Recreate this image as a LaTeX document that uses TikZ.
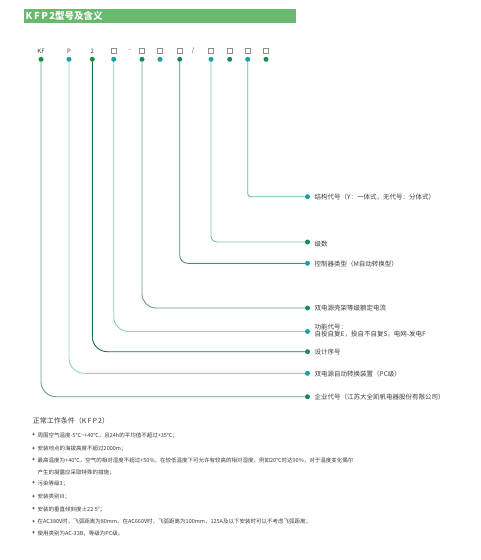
\documentclass[tikz,border=0pt]{standalone}
\usepackage{fontspec}
\setmainfont{Noto Sans CJK SC}
\definecolor{hdr}{RGB}{104,184,110}
\definecolor{dg}{RGB}{22,140,80}
\definecolor{dt}{RGB}{24,162,166}
\definecolor{txt}{RGB}{60,60,60}
\definecolor{lKF}{RGB}{110,160,125}
\definecolor{lP}{RGB}{150,210,205}
\definecolor{lTwo}{RGB}{30,115,70}
\definecolor{lA}{RGB}{140,205,205}
\definecolor{lB}{RGB}{105,155,120}
\definecolor{lD}{RGB}{85,140,105}
\definecolor{lE}{RGB}{120,195,195}
\definecolor{lG}{RGB}{100,180,180}
\tikzset{
  dotg/.style={circle,fill=dg,inner sep=0pt,minimum size=5pt},
  dott/.style={circle,fill=dt,inner sep=0pt,minimum size=5pt},
  codebox/.style={draw=black!45,line width=0.4pt,inner sep=0pt,minimum size=5pt},
  toplab/.style={font=\fontsize{6}{6}\selectfont,text=txt,inner sep=0pt},
  rlab/.style={anchor=west,font=\fontsize{6.5}{7.6}\selectfont,text=txt,inner sep=0pt,align=left},
  conn/.style={line width=0.9pt},
  blt/.style={anchor=west,font=\fontsize{5.5}{6}\selectfont,text=txt,inner sep=0pt},
  bul/.style={font=\fontsize{5}{5}\selectfont\bfseries,text=txt,inner sep=0pt}
}
\begin{document}
\begin{tikzpicture}[x=1pt,y=-1pt]
\useasboundingbox (0,0) rectangle (480,560);
\fill[white] (0,0) rectangle (480,560);
% header
\fill[hdr] (24,9) rectangle (296,23);
\node[anchor=west,text=white,inner sep=0pt,font=\bfseries\fontsize{9.5}{10}\selectfont] (title) at (25.5,16) {K\,F\,P\,2型号及含义};
% top labels
\node[toplab] (kKF) at (41,51) {KF};
\node[toplab] (kP) at (69,51) {P};
\node[toplab] (k2) at (92.3,51) {2};
\node[codebox] (b1) at (113.7,51) {};
\node[toplab] (kdash) at (130,51) {-};
\node[codebox] (b2) at (142,51) {};
\node[codebox] (b3) at (160,51) {};
\node[codebox] (b4) at (179.7,51) {};
\node[toplab] (kslash) at (193,51) {/};
\node[codebox] (b5) at (211,51) {};
\node[codebox] (b6) at (229.7,51) {};
\node[codebox] (b7) at (247.7,51) {};
\node[codebox] (b8) at (266,51) {};
% top dots
\node[dotg] (dKF) at (41,59.3) {};
\node[dott] (dP) at (69,59.3) {};
\node[dotg] (d2) at (92.3,59.3) {};
\node[dott] (d1) at (113.7,59.3) {};
\node[dotg] (dB) at (142,59.3) {};
\node[dott] (dC) at (160,59.3) {};
\node[dotg] (dD) at (179.7,59.3) {};
\node[dott] (dE) at (211,59.3) {};
\node[dotg] (dF) at (229.7,59.3) {};
\node[dott] (dG) at (247.7,59.3) {};
\node[dotg] (dH) at (266,59.3) {};
% right dots
\node[dott] (rG) at (307.5,196.7) {};
\node[dotg] (rE) at (307.5,242) {};
\node[dott] (rD) at (307.5,263.3) {};
\node[dotg] (rB) at (307.5,308) {};
\node[dott] (r1) at (307.5,331.5) {};
\node[dotg] (r2) at (307.5,351.7) {};
\node[dott] (rP) at (307.5,373.3) {};
\node[dotg] (rKF) at (307.5,396.7) {};
% connectors
\draw[conn,lG,rounded corners=3pt] (dG) |- (rG);
\draw[conn,lE,rounded corners=6pt] (dE) |- (rE);
\draw[conn,lD,rounded corners=8pt] (dD) |- (rD);
\draw[conn,lB,rounded corners=14pt] (dB) |- (rB);
\draw[conn,lA,rounded corners=15pt] (d1) |- (r1);
\draw[conn,lTwo,rounded corners=15pt] (d2) |- (r2);
\draw[conn,lP,rounded corners=15pt] (dP) |- (rP);
\draw[conn,lKF,rounded corners=15pt] (dKF) |- (rKF);
% right labels
\node[rlab] (tG) at (314.5,197.2) {结构代号（Y：一体式，无代号：分体式）};
\node[rlab] (tE) at (314.5,244) {级数};
\node[rlab] (tD) at (314.5,263.8) {控制器类型（M自动转换型）};
\node[rlab] (tB) at (314.5,308.5) {双电源壳架等级额定电流};
\node[rlab] (t1) at (314.5,330.5) {功能代号：\\自投自复E，投自不自复S，电网-发电F};
\node[rlab] (t2) at (314.5,352.2) {设计序号};
\node[rlab] (tP) at (314.5,373.8) {双电源自动转换装置（PC级）};
\node[rlab] (tKF) at (314.5,397.2) {企业代号（江苏大全凯帆电器股份有限公司）};
% bottom text
\node[anchor=west,inner sep=0pt,text=txt,font=\fontsize{7}{8}\selectfont] (cond) at (32.7,421) {正常工作条件（K\,F\,P\,2）};
\foreach \yy/\nm in {435.3/a,449/b,460/c,483.3/e,496.7/f,509.3/g,521.7/h,533.3/i}
  \node[bul] (bu\nm) at (33.7,\yy) {+};
\node[blt] (la) at (37.5,435.3) {周围空气温度-5℃\textasciitilde+40℃，且24h的平均值不超过+35℃；};
\node[blt] (lb) at (37.5,449) {安装地点的海拔高度不超过2000m；};
\node[blt] (lc) at (37.5,460) {最高温度为+40℃，空气的相对湿度不超过+50\%，在较低温度下可允许有较高的相对湿度，例如20℃时达90\%，对于温度变化偶尔};
\node[blt] (ld) at (37.5,472.7) {产生的凝露应采取特殊的措施；};
\node[blt] (le) at (37.5,483.3) {污染等级3；};
\node[blt] (lf) at (37.5,496.7) {安装类别III；};
\node[blt] (lg) at (37.5,509.3) {安装的垂直倾斜度±22.5°；};
\node[blt] (lh) at (37.5,521.7) {在AC380V时，飞弧距离为80mm，在AC660V时，飞弧距离为100mm，125A及以下安装时可以不考虑飞弧距离；};
\node[blt] (li) at (37.5,533.3) {使用类别为AC-33B，等级为PC级。};
\end{tikzpicture}
\end{document}
